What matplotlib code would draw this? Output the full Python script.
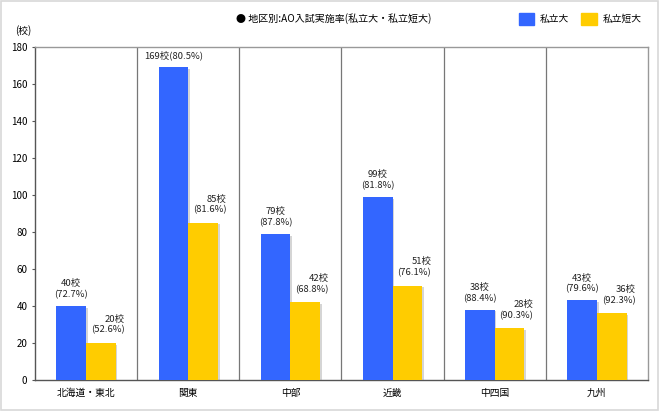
import matplotlib
matplotlib.use("Agg")
import matplotlib.pyplot as plt
import matplotlib.patheffects as pe
from matplotlib.patches import Rectangle, Patch

plt.rcParams['font.family'] = ['Noto Sans CJK JP', 'DejaVu Sans']

# data
regions = ['北海道・東北', '関東', '中部', '近畿', '中四国', '九州']
univ_count = [40, 169, 79, 99, 38, 43]
univ_rate = [72.7, 80.5, 87.8, 81.8, 88.4, 79.6]
junior_count = [20, 85, 42, 51, 28, 36]
junior_rate = [52.6, 81.6, 68.8, 76.1, 90.3, 92.3]
series_names = ['私立大', '私立短大']
title = '● 地区別:AO入試実施率(私立大・私立短大)'

blue = '#3366ff'
yellow = '#ffcc00'
bw = 0.29

fig = plt.figure(figsize=(6.6, 4.11), dpi=100)
fig.patches.append(Rectangle((0.002, 0.003), 0.995, 0.994, transform=fig.transFigure,
                             fill=False, edgecolor='#d8d8d8', lw=1.2))
ax = fig.add_axes([35 / 660, 31 / 411, 613 / 660, 333 / 411])

shadow = [pe.SimplePatchShadow(offset=(1.2, -1.2), shadow_rgbFace='#888888', alpha=0.35), pe.Normal()]
x = list(range(len(regions)))
b1 = ax.bar([i - bw / 2 for i in x], univ_count, width=bw, color=blue, zorder=3)
b2 = ax.bar([i + bw / 2 for i in x], junior_count, width=bw, color=yellow, zorder=3)
for b in list(b1) + list(b2):
    b.set_path_effects(shadow)

for i in x:
    if univ_count[i] > 150:
        txt = f'{univ_count[i]}校({univ_rate[i]}%)'
    else:
        txt = f'{univ_count[i]}校\n({univ_rate[i]}%)'
    ax.annotate(txt, (i - bw / 2, univ_count[i]), xytext=(0, 5), textcoords='offset points',
                ha='center', va='bottom', multialignment='center', fontsize=6.8,
                color='#222222', linespacing=1.25)
    ax.annotate(f'{junior_count[i]}校\n({junior_rate[i]}%)', (i + bw, junior_count[i]),
                xytext=(6.5, 6), textcoords='offset points', ha='right', va='bottom',
                multialignment='right', fontsize=6.8, color='#222222', linespacing=1.25)

for i in x[:-1]:
    ax.axvline(i + 0.5, color='#777777', lw=0.9, zorder=1)

ax.set_xlim(-0.5, len(regions) - 0.5)
ax.set_ylim(0, 180)
ax.set_yticks(range(0, 181, 20))
ax.set_xticks(x)
ax.set_xticklabels(regions)
ax.tick_params(axis='y', length=2.5, width=0.8, color='#555555', labelsize=7, pad=3)
ax.tick_params(axis='x', length=0, labelsize=7, pad=6)
for s in ['left', 'bottom']:
    ax.spines[s].set_color('#555555')
    ax.spines[s].set_linewidth(1)
for s in ['top', 'right']:
    ax.spines[s].set_color('#999999')
    ax.spines[s].set_linewidth(1)

fig.text(15 / 660, 1 - 31 / 411, '(校)', fontsize=7, ha='left', va='center')
fig.text(236 / 660, 1 - 19 / 411, title, fontsize=7.2, ha='left', va='center')

handles = [Patch(color=blue), Patch(color=yellow)]
fig.legend(handles, series_names, ncol=2, loc='center', bbox_to_anchor=(580 / 660, 1 - 19 / 411),
           frameon=False, fontsize=7, handlelength=1.6, handleheight=1.6,
           handletextpad=0.6, columnspacing=1.2)

fig.savefig('out.png', dpi=100)
